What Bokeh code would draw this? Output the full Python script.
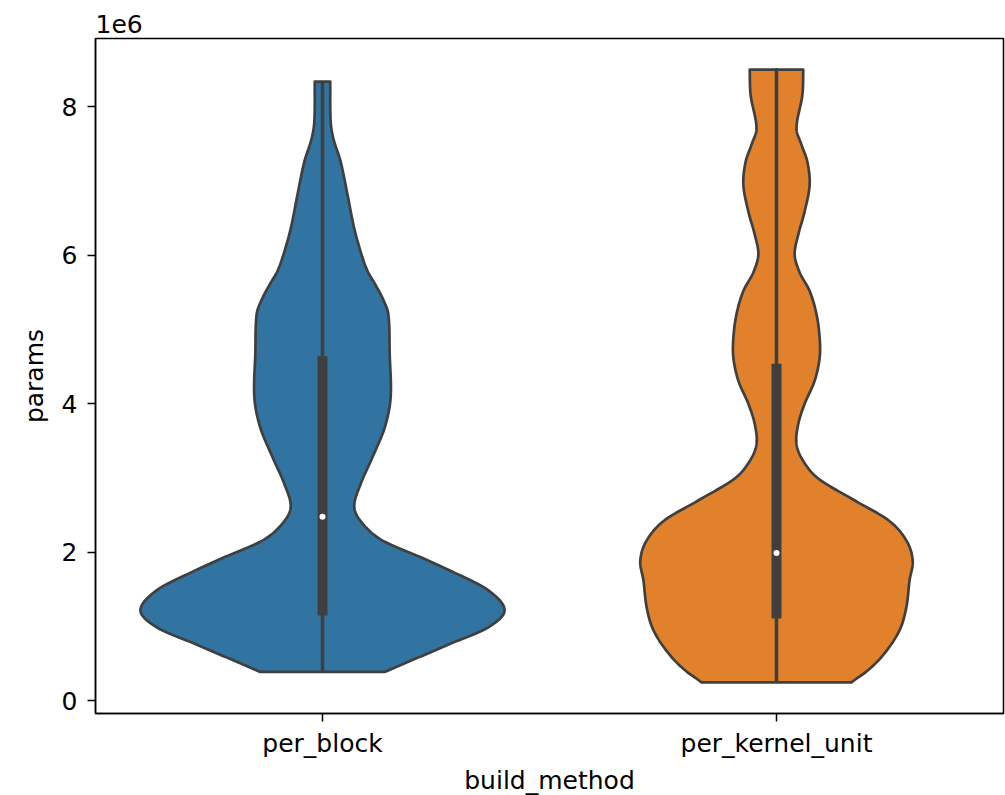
import numpy as np
from bokeh.plotting import figure
from bokeh.models import Range1d, FixedTicker
from bokeh.embed import file_html
from bokeh.resources import INLINE

# Build methods on the x axis
categories = ["per_block", "per_kernel_unit"]
fill_colors = ["#3274a1", "#e1812c"]

# Density outline of each violin: parameter count levels and half-width
# (in category units) of the violin at each level.
block_levels = [0.39e6, 0.55e6, 0.78e6, 0.99e6, 1.22e6, 1.49e6, 1.72e6, 1.94e6,
                2.16e6, 2.39e6, 2.61e6, 2.92e6, 3.28e6, 3.68e6, 4.08e6, 4.67e6,
                5.21e6, 5.40e6, 5.60e6, 5.79e6, 6.01e6, 6.36e6, 6.82e6, 7.26e6,
                7.57e6, 7.80e6, 8.34e6]
block_half_width = [0.137, 0.198, 0.286, 0.365, 0.401, 0.365, 0.293, 0.214,
                    0.132, 0.088, 0.070, 0.084, 0.110, 0.137, 0.150, 0.148,
                    0.145, 0.134, 0.117, 0.099, 0.086, 0.070, 0.055, 0.040,
                    0.024, 0.018, 0.017]

kernel_levels = [0.25e6, 0.42e6, 0.64e6, 0.95e6, 1.26e6, 1.62e6, 1.89e6, 2.16e6,
                 2.43e6, 2.70e6, 2.99e6, 3.23e6, 3.46e6, 3.73e6, 4.00e6, 4.31e6,
                 4.62e6, 4.89e6, 5.21e6, 5.52e6, 5.77e6, 6.01e6, 6.28e6, 6.59e6,
                 6.95e6, 7.26e6, 7.49e6, 7.71e6, 8.16e6, 8.50e6]
kernel_half_width = [0.165, 0.203, 0.238, 0.271, 0.286, 0.293, 0.300, 0.286,
                     0.247, 0.172, 0.093, 0.059, 0.044, 0.048, 0.062, 0.084,
                     0.095, 0.095, 0.088, 0.073, 0.051, 0.040, 0.048, 0.062,
                     0.073, 0.068, 0.055, 0.044, 0.057, 0.059]

# Summary statistics for the inner box: min, q1, median, q3, max
block_stats = [0.39e6, 1.15e6, 2.48e6, 4.64e6, 8.34e6]
kernel_stats = [0.24e6, 1.11e6, 1.99e6, 4.54e6, 8.52e6]

y_ticks = [0, 2e6, 4e6, 6e6, 8e6]
y_tick_labels = ["0", "2", "4", "6", "8"]

LINE = "#3f3f3f"
FONT = "DejaVu Sans"


def smooth(levels, widths, n=600):
    """Cubic Hermite curve through the outline samples, parametrised by level."""
    y = np.asarray(levels, dtype=float)
    w = np.asarray(widths, dtype=float)
    m = np.zeros_like(w)
    m[1:-1] = (w[2:] - w[:-2]) / (y[2:] - y[:-2])
    m[0] = (w[1] - w[0]) / (y[1] - y[0])
    m[-1] = (w[-1] - w[-2]) / (y[-1] - y[-2])
    yy = np.linspace(y[0], y[-1], n)
    k = np.clip(np.searchsorted(y, yy, side="right") - 1, 0, len(y) - 2)
    h = y[k + 1] - y[k]
    t = (yy - y[k]) / h
    h00 = 2 * t ** 3 - 3 * t ** 2 + 1
    h10 = t ** 3 - 2 * t ** 2 + t
    h01 = -2 * t ** 3 + 3 * t ** 2
    h11 = t ** 3 - t ** 2
    ww = h00 * w[k] + h10 * h * m[k] + h01 * w[k + 1] + h11 * h * m[k + 1]
    return yy, np.clip(ww, 0, None)


p = figure(width=1005, height=795, x_range=Range1d(-0.5, 1.5),
           y_range=Range1d(-0.17e6, 8.92e6), output_backend="svg",
           toolbar_location=None, min_border_left=95, min_border_right=2,
           min_border_top=38, min_border_bottom=82)
p.frame_width = 908
p.frame_height = 675

violins = [(block_levels, block_half_width, block_stats),
           (kernel_levels, kernel_half_width, kernel_stats)]

for i, (levels, widths, stats) in enumerate(violins):
    ys, hw = smooth(levels, widths)
    xs = np.concatenate([i - hw, (i + hw)[::-1]])
    yy = np.concatenate([ys, ys[::-1]])
    p.patch(xs, yy, fill_color=fill_colors[i], line_color=LINE, line_width=2.7,
            line_join="round")
    lo, q1, med, q3, hi = stats
    p.segment(x0=[i], y0=[lo], x1=[i], y1=[hi], line_color=LINE, line_width=3.5)
    p.segment(x0=[i], y0=[q1], x1=[i], y1=[q3], line_color=LINE, line_width=10)
    p.scatter([i], [med], size=6, fill_color="white", line_color=None)

p.xgrid.visible = False
p.ygrid.visible = False
p.outline_line_color = "black"
p.outline_line_width = 1.5
p.outline_line_alpha = 1

p.xaxis.ticker = FixedTicker(ticks=[0, 1])
p.xaxis.major_label_overrides = {0: categories[0], 1: categories[1]}
p.xaxis.axis_label = "build_method"
p.yaxis.ticker = FixedTicker(ticks=y_ticks)
p.yaxis.major_label_overrides = {t: lab for t, lab in zip(y_ticks, y_tick_labels)}
p.yaxis.axis_label = "params"

for ax in (p.xaxis[0], p.yaxis[0]):
    ax.minor_tick_line_color = None
    ax.major_tick_in = 0
    ax.major_tick_out = 8
    ax.major_tick_line_width = 1.5
    ax.major_tick_line_color = "black"
    ax.axis_line_color = "black"
    ax.axis_line_width = 1.5
    ax.major_label_text_font = FONT
    ax.major_label_text_font_size = "25px"
    ax.major_label_text_color = "black"
    ax.axis_label_text_font = FONT
    ax.axis_label_text_font_size = "25px"
    ax.axis_label_text_font_style = "normal"
    ax.axis_label_text_color = "black"

p.yaxis.major_label_standoff = 10
p.yaxis.axis_label_standoff = 10
p.xaxis.major_label_standoff = 7
p.xaxis.axis_label_standoff = 5

p.title.text = "1e6"
p.title.align = "left"
p.title.text_font = FONT
p.title.text_font_size = "25px"
p.title.text_font_style = "normal"
p.title.text_color = "black"
p.title.standoff = 12

open("out.html", "w").write(file_html(p, INLINE))
